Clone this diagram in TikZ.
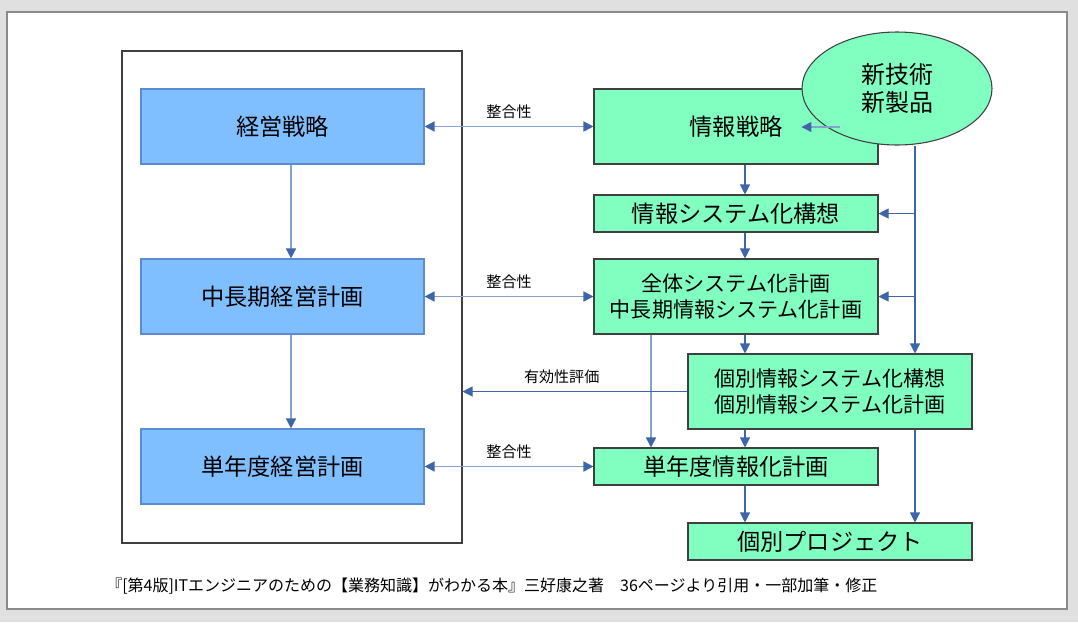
\documentclass[tikz,border=0pt]{standalone}
\usepackage{fontspec}
\setmainfont{Noto Sans CJK JP}
\usetikzlibrary{arrows.meta,shapes.geometric}
\definecolor{bg}{HTML}{E0E0E0}
\definecolor{framec}{HTML}{8A8A8A}
\definecolor{bluefill}{HTML}{80BFFF}
\definecolor{blueline}{HTML}{5C8BD0}
\definecolor{greenfill}{HTML}{80FFC0}
\definecolor{boxline}{HTML}{404040}
\definecolor{arr}{HTML}{3F65A9}
\definecolor{arrl}{HTML}{86A2CF}
\tikzset{
  bigtext/.style={font=\fontsize{17.4pt}{20pt}\selectfont},
  twotext/.style={font=\fontsize{15.8pt}{19.5pt}\selectfont},
  bluebox/.style={draw=blueline, fill=bluefill, line width=0.9pt, inner sep=0pt, bigtext},
  greenbox/.style={draw=boxline, fill=greenfill, line width=0.8pt, inner sep=0pt, align=center, bigtext},
  container/.style={draw=boxline, line width=0.8pt, inner sep=0pt},
  tip/.style={-{Triangle[length=7.5pt,width=7.5pt]}},
  conn/.style={draw=arr, line width=0.8pt, tip},
  connl/.style={draw=arrl, line width=1.2pt, -{Triangle[length=7.5pt,width=7.5pt,color=arr]}},
  dconn/.style={draw=arrl, line width=1.2pt, {Triangle[length=7.5pt,width=7.5pt,color=arr]}-{Triangle[length=7.5pt,width=7.5pt,color=arr]}},
  lbl/.style={font=\fontsize{11.3pt}{13pt}\selectfont, inner sep=0pt}
}
% \pbox{style}{name}{x1}{y1}{x2}{y2}{text}
\newcommand{\pbox}[7]{%
  \node[#1, minimum width={(#5-#3)*0.75pt}, minimum height={(#6-#4)*0.75pt}] (#2) at ({(#3+#5)/2},{(#4+#6)/2}) {#7};}
\begin{document}
\begin{tikzpicture}[x=0.75pt,y=-0.75pt]
\useasboundingbox (0,0) rectangle (1078,622);
\fill[bg] (0,0) rectangle (1078,622);
\draw[framec, fill=white, line width=1.6pt] (7,12) rectangle (1067,609);
% left container
\pbox{container}{left}{122}{51}{462}{543}{}
% blue boxes
\pbox{bluebox}{b1}{141}{89}{424}{164}{経営戦略}
\pbox{bluebox}{b2}{141}{259}{424}{334}{中長期経営計画}
\pbox{bluebox}{b3}{141}{429}{424}{504}{単年度経営計画}
% green boxes
\pbox{greenbox}{g1}{594}{89}{878}{164}{情報戦略}
\pbox{greenbox}{g2}{594}{195}{878}{232}{情報システム化構想}
\pbox{greenbox,twotext}{g3}{594}{259}{878}{334}{全体システム化計画\\中長期情報システム化計画}
\pbox{greenbox,twotext}{g4}{688}{354}{972}{429}{個別情報システム化構想\\個別情報システム化計画}
\pbox{greenbox}{g5}{594}{448}{878}{485}{単年度情報化計画}
\pbox{greenbox}{g6}{688}{523}{972}{560}{個別プロジェクト}
% helper x positions
\coordinate (lx) at (291,0);
\coordinate (mx) at (745,0);
\coordinate (rx) at (915,0);
\coordinate (qx) at (651,0);
% left verticals
\draw[connl] (b1.south -| lx) -- (b2.north -| lx);
\draw[connl] (b2.south -| lx) -- (b3.north -| lx);
% consistency arrows
\draw[dconn] (b1.east) -- node[lbl, above=5.5pt] {整合性} (g1.west);
\draw[dconn] (b2.east) -- node[lbl, above=5.5pt] {整合性} (g3.west);
\draw[dconn] (b3.east) -- node[lbl, above=5.5pt] {整合性} (g5.west);
% middle verticals
\draw[conn] (g1.south -| mx) -- (g2.north -| mx);
\draw[conn] (g2.south -| mx) -- (g3.north -| mx);
\draw[conn] (g3.south -| mx) -- (g4.north -| mx);
\draw[conn] (g4.south -| mx) -- (g5.north -| mx);
\draw[conn] (g5.south -| mx) -- (g6.north -| mx);
\draw[connl] (g3.south -| qx) -- (g5.north -| qx);
% evaluation
\draw[conn] (g4.west) -- node[lbl, above=5.5pt, xshift=-10pt] {有効性評価} (g4.west -| left.east);
% new tech ellipse
\node[ellipse, draw=boxline, fill=greenfill, line width=0.8pt, minimum width=190*0.75pt, minimum height=113*0.75pt, inner sep=0pt, align=center, font=\fontsize{18pt}{20.5pt}\selectfont] (ell) at (897,88.5) {新技術\\新製品};
\draw[conn] (ell.south -| rx) -- (g4.north -| rx);
\draw[conn] (g2.east -| rx) -- (g2.east);
\draw[conn] (g3.east -| rx) -- (g3.east);
\draw[conn] (g4.south -| rx) -- (g6.north -| rx);
\coordinate (e1) at (840,127);
\draw[connl] (e1) -- (e1 -| ell.west);
% caption
\node[anchor=west, inner sep=0pt, font=\fontsize{12pt}{14pt}\selectfont] (cap) at (106,586) {『[第4版]ITエンジニアのための【業務知識】がわかる本』三好康之著　36ページより引用・一部加筆・修正};
\end{tikzpicture}
\end{document}
